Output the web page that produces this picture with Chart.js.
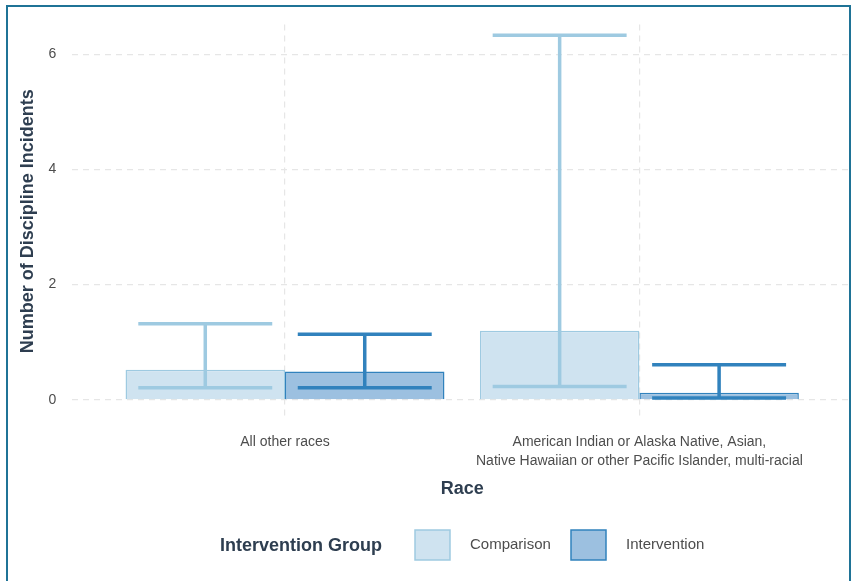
<!DOCTYPE html>
<html>
<head>
<meta charset="utf-8">
<script src="https://cdn.jsdelivr.net/npm/chart.js@4.4.0/dist/chart.umd.min.js"></script>
<style>
  html, body { margin: 0; padding: 0; background: #fff; }
  #frame { position: absolute; left: 6px; top: 5px; width: 841px; height: 600px; border: 2px solid #1f7396; border-bottom: none; }
  #wrap { position: absolute; left: 0; top: 0; width: 852px; height: 581px; }
</style>
</head>
<body>
<div id="frame"></div>
<div id="wrap"><canvas id="chart" width="852" height="581"></canvas></div>
<script>
// categories and values
const categories = [
  ["All other races"],
  ["American Indian or Alaska Native, Asian,", "Native Hawaiian or other Pacific Islander, multi-racial"]
];
const groups = ["Comparison", "Intervention"];
const comparisonMean = [0.52, 1.20];
const comparisonLow = [0.21, 0.23];
const comparisonHigh = [1.32, 6.33];
const interventionMean = [0.49, 0.12];
const interventionLow = [0.21, 0.03];
const interventionHigh = [1.14, 0.61];
const yTicks = [0, 2, 4, 6];

const fills = ["#cfe3f0", "#9cc0e0"];
const strokes = ["#9ecae1", "#3182bd"];
const textCol = "#2e3e50";
const tickCol = "#4d4d4d";
const font = "'Liberation Sans', Arial, sans-serif";

function pts(arr) { return arr.map((v, i) => ({ x: i + 1, y: v })); }

const errors = [
  { low: comparisonLow, high: comparisonHigh },
  { low: interventionLow, high: interventionHigh }
];

// error bars drawn over the bars using the bar elements positions
const errorBars = {
  id: 'errorBars',
  afterDatasetsDraw(chart) {
    const ctx = chart.ctx;
    const y = chart.scales.y;
    chart.data.datasets.forEach((ds, di) => {
      const meta = chart.getDatasetMeta(di);
      meta.data.forEach((el, i) => {
        const lo = y.getPixelForValue(errors[di].low[i]);
        const hi = y.getPixelForValue(errors[di].high[i]);
        const half = el.width * 0.42;
        ctx.save();
        ctx.strokeStyle = strokes[di];
        ctx.lineWidth = 3.5;
        ctx.beginPath();
        ctx.moveTo(el.x, lo); ctx.lineTo(el.x, hi);
        ctx.moveTo(el.x - half, lo); ctx.lineTo(el.x + half, lo);
        ctx.moveTo(el.x - half, hi); ctx.lineTo(el.x + half, hi);
        ctx.stroke();
        ctx.restore();
      });
    });
  }
};

// ggplot style legend: title on the left, boxes in a row
const bottomLegend = {
  id: 'bottomLegend',
  afterDraw(chart) {
    const ctx = chart.ctx;
    const cy = 545;
    ctx.save();
    ctx.textBaseline = 'middle';
    ctx.fillStyle = textCol;
    ctx.font = "bold 18px " + font;
    ctx.fillText("Intervention Group", 220, cy + 1);
    let x = 415;
    chart.data.datasets.forEach((ds, di) => {
      ctx.fillStyle = fills[di];
      ctx.strokeStyle = strokes[di];
      ctx.lineWidth = 1.5;
      ctx.fillRect(x, cy - 15, 35, 30);
      ctx.strokeRect(x, cy - 15, 35, 30);
      ctx.fillStyle = tickCol;
      ctx.font = "15px " + font;
      ctx.fillText(ds.label, x + 55, cy);
      x += 156;
    });
    ctx.restore();
  }
};

const grid = { color: '#e6e6e6', lineWidth: 1.2, offset: false };

new Chart(document.getElementById('chart'), {
  type: 'bar',
  data: {
    datasets: [
      { label: groups[0], data: pts(comparisonMean), backgroundColor: fills[0], borderColor: strokes[0], borderWidth: 1.5 },
      { label: groups[1], data: pts(interventionMean), backgroundColor: fills[1], borderColor: strokes[1], borderWidth: 1.5 }
    ]
  },
  options: {
    responsive: false,
    animation: false,
    layout: { padding: { left: 17, right: 0, top: 1, bottom: 81 } },
    datasets: { bar: { categoryPercentage: 0.9, barPercentage: 1.0, grouped: true } },
    scales: {
      x: {
        type: 'linear',
        offset: false,
        min: 0.4, max: 2.6,
        afterBuildTicks(s) { s.ticks = categories.map((c, i) => ({ value: i + 1 })); },
        ticks: {
          callback: (v) => categories[Math.round(v) - 1],
          color: tickCol, font: { family: font, size: 14, lineHeight: 1.4 }, padding: 14, maxRotation: 0, autoSkip: false
        },
        grid: { ...grid, drawTicks: false },
        border: { display: false, dash: [6, 5] },
        title: { display: true, text: 'Race', color: textCol, font: { family: font, size: 18, weight: 'bold' }, padding: { top: -7, bottom: 0 } }
      },
      y: {
        min: -0.32, max: 6.52,
        afterBuildTicks(s) { s.ticks = yTicks.map(v => ({ value: v })); },
        ticks: { color: tickCol, font: { family: font, size: 14 }, padding: 16 },
        grid: { ...grid, drawTicks: false },
        border: { display: false, dash: [6, 5] },
        title: { display: true, text: 'Number of Discipline Incidents', color: textCol, font: { family: font, size: 18, weight: 'bold' }, padding: { top: 0, bottom: -6 } }
      }
    },
    plugins: {
      legend: { display: false },
      tooltip: { enabled: false }
    }
  },
  plugins: [errorBars, bottomLegend]
});
</script>
</body>
</html>
